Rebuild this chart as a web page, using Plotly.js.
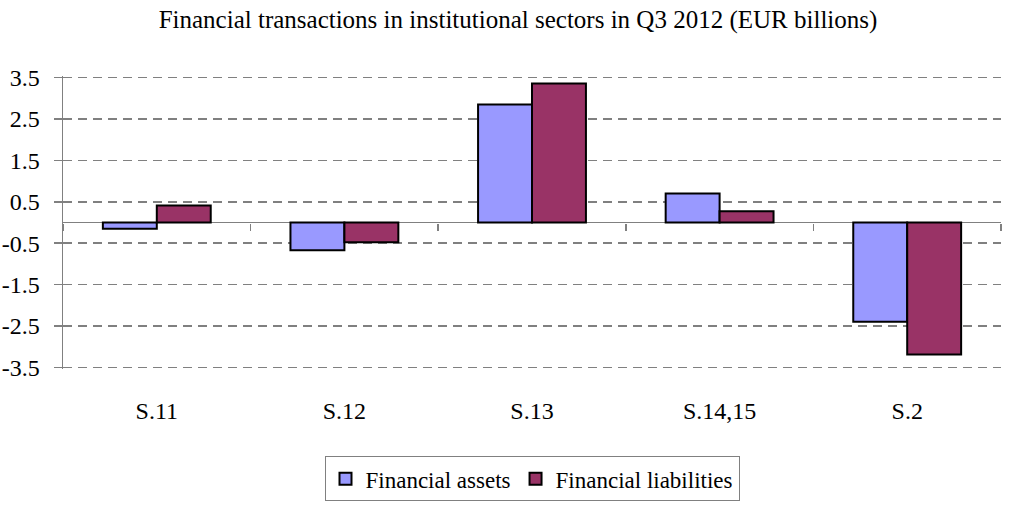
<!DOCTYPE html>
<html>
<head>
<meta charset="utf-8">
<script src="https://cdn.plot.ly/plotly-3.0.1.min.js"></script>
<style>html,body{margin:0;padding:0;background:#fff}#chart{width:1036px;height:513px}</style>
</head>
<body>
<div id="chart"></div>
<script>
const categories = ["S.11", "S.12", "S.13", "S.14,15", "S.2"];
const financialAssets = [-0.15, -0.67, 2.85, 0.70, -2.40];
const financialLiabilities = [0.41, -0.48, 3.36, 0.27, -3.19];
const yTickValues = [-3.5, -2.5, -1.5, -0.5, 0.5, 1.5, 2.5, 3.5];
const titleText = "Financial transactions in institutional sectors in Q3 2012 (EUR billions)";

const serif = "Liberation Serif, Times New Roman, serif";
const boundaries = [];
for (let i = 0; i <= categories.length; i++) boundaries.push(i - 0.5);

const data = [
  {type: "bar", name: "Financial assets", x: categories, y: financialAssets,
   marker: {color: "#9999FF", line: {color: "#000000", width: 2}}, hoverinfo: "skip"},
  {type: "bar", name: "Financial liabilities", x: categories, y: financialLiabilities,
   marker: {color: "#993366", line: {color: "#000000", width: 2}}, hoverinfo: "skip"},
  {type: "scatter", mode: "none", x: categories.map((_, i) => i), y: categories.map(() => 0),
   xaxis: "x2", yaxis: "y", showlegend: false, hoverinfo: "skip"}
];

const layout = {
  width: 1036, height: 513,
  margin: {l: 63, r: 35, t: 76, b: 135},
  paper_bgcolor: "#ffffff", plot_bgcolor: "#ffffff",
  font: {family: serif, size: 24, color: "#000000"},
  title: {text: titleText, font: {family: serif, size: 25, color: "#000000"},
          x: 0.5, xanchor: "center", y: 1 - 19 / 513, yanchor: "middle", yref: "container"},
  barmode: "group", bargap: 0.425, bargroupgap: 0,
  xaxis: {type: "category", range: [-0.5, categories.length - 0.5], showline: false, showgrid: false,
          zeroline: false, ticks: "", ticklabelstandoff: 25,
          tickfont: {family: serif, size: 24, color: "#000000"}},
  xaxis2: {overlaying: "x", anchor: "free", position: 0.5, range: [-0.5, categories.length - 0.5],
           tickmode: "array", tickvals: boundaries, ticks: "outside", ticklen: 7, tickwidth: 1.5,
           tickcolor: "#808080", showticklabels: false, showline: false, showgrid: false, zeroline: false},
  yaxis: {range: [-3.54, 3.54], tickmode: "array", tickvals: yTickValues,
          ticktext: yTickValues.map(v => v.toFixed(1)),
          ticks: "outside", ticklen: 8, tickwidth: 1.5, tickcolor: "#808080",
          showline: true, linecolor: "#808080", linewidth: 1.5,
          showgrid: true, gridcolor: "#808080", gridwidth: 1.5, griddash: "9px,6px",
          zeroline: true, zerolinecolor: "#808080", zerolinewidth: 1.5,
          ticklabelstandoff: 9, tickfont: {family: serif, size: 24, color: "#000000"}},
  showlegend: true,
  legend: {orientation: "h", x: 0.5, xanchor: "center", y: (378 - 468) / 302, yanchor: "top",
           bordercolor: "#808080", borderwidth: 1, bgcolor: "#ffffff", itemwidth: 30,
           font: {family: serif, size: 23, color: "#000000"}, itemclick: false, itemdoubleclick: false}
};

Plotly.newPlot("chart", data, layout, {staticPlot: true, displayModeBar: false});
</script>
</body>
</html>
